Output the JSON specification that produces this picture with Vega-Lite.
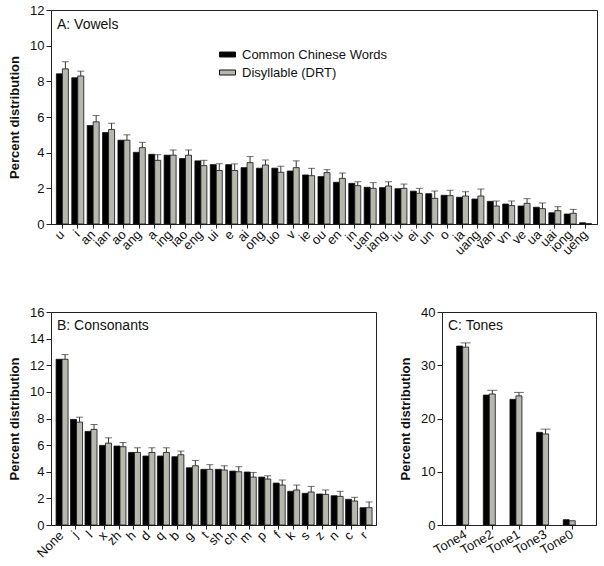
{
  "$schema": "https://vega.github.io/schema/vega-lite/v6.json",
  "padding": {"left": 8, "top": 3, "right": 5, "bottom": 5},
  "background": "white",
  "config": {
    "font": "Liberation Sans",
    "view": {"stroke": "#222", "strokeWidth": 1},
    "axis": {"labelFont": "Liberation Sans", "labelFontSize": 13, "labelColor": "#111", "titleFont": "Liberation Sans", "titleFontSize": 13, "titleFontWeight": "bold", "titleColor": "#111", "domainColor": "#222", "tickColor": "#222", "grid": false, "labelOverlap": false},
    "title": {"font": "Liberation Sans", "fontSize": 14, "fontWeight": "normal", "color": "#111"},
    "legend": {"labelFont": "Liberation Sans", "labelFontSize": 13, "labelColor": "#111"}
  },
  "resolve": {"scale": {"color": "independent"}, "legend": {"color": "independent"}},
  "spacing": 47,
  "vconcat": [
    {
      "width": 546,
      "height": 214,
      "title": {"text": "A: Vowels", "anchor": "start", "frame": "group", "orient": "top", "baseline": "top", "offset": -22, "dx": 6, "dy": 6},
      "data": {"values": [
        {"cat":"u","series":"Common Chinese Words","value":8.42},{"cat":"u","series":"Disyllable (DRT)","value":8.7,"upper":9.1},
        {"cat":"i","series":"Common Chinese Words","value":8.2},{"cat":"i","series":"Disyllable (DRT)","value":8.3,"upper":8.57},
        {"cat":"an","series":"Common Chinese Words","value":5.52},{"cat":"an","series":"Disyllable (DRT)","value":5.73,"upper":6.08},
        {"cat":"ian","series":"Common Chinese Words","value":5.13},{"cat":"ian","series":"Disyllable (DRT)","value":5.3,"upper":5.65},
        {"cat":"ao","series":"Common Chinese Words","value":4.7},{"cat":"ao","series":"Disyllable (DRT)","value":4.7,"upper":5.0},
        {"cat":"ang","series":"Common Chinese Words","value":4.02},{"cat":"ang","series":"Disyllable (DRT)","value":4.28,"upper":4.58},
        {"cat":"a","series":"Common Chinese Words","value":3.91},{"cat":"a","series":"Disyllable (DRT)","value":3.57,"upper":3.89},
        {"cat":"ing","series":"Common Chinese Words","value":3.86},{"cat":"ing","series":"Disyllable (DRT)","value":3.86,"upper":4.15},
        {"cat":"iao","series":"Common Chinese Words","value":3.67},{"cat":"iao","series":"Disyllable (DRT)","value":3.86,"upper":4.15},
        {"cat":"eng","series":"Common Chinese Words","value":3.54},{"cat":"eng","series":"Disyllable (DRT)","value":3.27,"upper":3.57},
        {"cat":"ui","series":"Common Chinese Words","value":3.33},{"cat":"ui","series":"Disyllable (DRT)","value":3.0,"upper":3.38},
        {"cat":"e","series":"Common Chinese Words","value":3.33},{"cat":"e","series":"Disyllable (DRT)","value":3.0,"upper":3.37},
        {"cat":"ai","series":"Common Chinese Words","value":3.16},{"cat":"ai","series":"Disyllable (DRT)","value":3.44,"upper":3.78},
        {"cat":"ong","series":"Common Chinese Words","value":3.13},{"cat":"ong","series":"Disyllable (DRT)","value":3.31,"upper":3.59},
        {"cat":"uo","series":"Common Chinese Words","value":3.13},{"cat":"uo","series":"Disyllable (DRT)","value":2.9,"upper":3.24},
        {"cat":"v","series":"Common Chinese Words","value":2.97},{"cat":"v","series":"Disyllable (DRT)","value":3.16,"upper":3.54},
        {"cat":"ie","series":"Common Chinese Words","value":2.75},{"cat":"ie","series":"Disyllable (DRT)","value":2.71,"upper":3.12},
        {"cat":"ou","series":"Common Chinese Words","value":2.66},{"cat":"ou","series":"Disyllable (DRT)","value":2.88,"upper":3.05},
        {"cat":"en","series":"Common Chinese Words","value":2.34},{"cat":"en","series":"Disyllable (DRT)","value":2.56,"upper":2.86},
        {"cat":"in","series":"Common Chinese Words","value":2.28},{"cat":"in","series":"Disyllable (DRT)","value":2.15,"upper":2.37},
        {"cat":"uan","series":"Common Chinese Words","value":2.06},{"cat":"uan","series":"Disyllable (DRT)","value":2.0,"upper":2.32},
        {"cat":"iang","series":"Common Chinese Words","value":2.04},{"cat":"iang","series":"Disyllable (DRT)","value":2.13,"upper":2.37},
        {"cat":"iu","series":"Common Chinese Words","value":1.98},{"cat":"iu","series":"Disyllable (DRT)","value":2.0,"upper":2.24},
        {"cat":"ei","series":"Common Chinese Words","value":1.84},{"cat":"ei","series":"Disyllable (DRT)","value":1.72,"upper":2.0},
        {"cat":"un","series":"Common Chinese Words","value":1.7},{"cat":"un","series":"Disyllable (DRT)","value":1.44,"upper":1.85},
        {"cat":"o","series":"Common Chinese Words","value":1.61},{"cat":"o","series":"Disyllable (DRT)","value":1.59,"upper":1.89},
        {"cat":"ia","series":"Common Chinese Words","value":1.5},{"cat":"ia","series":"Disyllable (DRT)","value":1.57,"upper":1.81},
        {"cat":"uang","series":"Common Chinese Words","value":1.4},{"cat":"uang","series":"Disyllable (DRT)","value":1.57,"upper":1.96},
        {"cat":"van","series":"Common Chinese Words","value":1.27},{"cat":"van","series":"Disyllable (DRT)","value":1.01,"upper":1.29},
        {"cat":"vn","series":"Common Chinese Words","value":1.12},{"cat":"vn","series":"Disyllable (DRT)","value":1.03,"upper":1.29},
        {"cat":"ve","series":"Common Chinese Words","value":1.01},{"cat":"ve","series":"Disyllable (DRT)","value":1.16,"upper":1.42},
        {"cat":"ua","series":"Common Chinese Words","value":0.94},{"cat":"ua","series":"Disyllable (DRT)","value":0.86,"upper":1.18},
        {"cat":"uai","series":"Common Chinese Words","value":0.63},{"cat":"uai","series":"Disyllable (DRT)","value":0.75,"upper":0.97},
        {"cat":"iong","series":"Common Chinese Words","value":0.56},{"cat":"iong","series":"Disyllable (DRT)","value":0.6,"upper":0.82},
        {"cat":"ueng","series":"Common Chinese Words","value":0.07},{"cat":"ueng","series":"Disyllable (DRT)","value":0.02}
      ]},
      "encoding": {
        "x": {"field": "cat", "type": "nominal", "sort": null, "title": null, "scale": {"paddingInner": 0.22, "paddingOuter": 0.35}, "axis": {"labelAngle": -45, "labelAlign": "right", "labelBaseline": "middle", "tickSize": 4, "labelPadding": 4}},
        "xOffset": {"field": "series", "type": "nominal", "scale": {"paddingInner": 0, "paddingOuter": 0}}
      },
      "layer": [
        {
          "mark": {"type": "bar", "stroke": "#111", "strokeWidth": 0.8},
          "encoding": {
            "y": {"field": "value", "type": "quantitative", "scale": {"domain": [0, 12]}, "axis": {"values": [0,2,4,6,8,10,12], "title": "Percent distribution", "tickSize": 5, "titlePadding": 8}},
            "color": {"field": "series", "type": "nominal", "scale": {"domain": ["Common Chinese Words", "Disyllable (DRT)"], "range": ["#000000", "#b6b8ae"]}, "legend": {"title": null, "orient": "none", "legendX": 170, "legendY": 38, "symbolType": "M-1.6,-0.5H1.6V0.5H-1.6Z", "symbolSize": 100, "symbolStrokeColor": "#111", "symbolStrokeWidth": 1, "rowPadding": 4, "labelOffset": 8}}
          }
        },
        {
          "transform": [{"filter": "isValid(datum.upper)"}],
          "mark": {"type": "rule", "color": "#333", "strokeWidth": 1},
          "encoding": {"y": {"field": "value", "type": "quantitative", "scale": {"domain": [0, 12]}, "axis": {"values": [0,2,4,6,8,10,12], "title": "Percent distribution", "tickSize": 5, "titlePadding": 8}}, "y2": {"field": "upper"}}
        },
        {
          "transform": [{"filter": "isValid(datum.upper)"}],
          "mark": {"type": "tick", "color": "#333", "thickness": 1, "size": 7},
          "encoding": {"y": {"field": "upper", "type": "quantitative", "scale": {"domain": [0, 12]}, "axis": {"values": [0,2,4,6,8,10,12], "title": "Percent distribution", "tickSize": 5, "titlePadding": 8}}}
        }
      ]
    },
    {
      "spacing": 22,
      "hconcat": [
        {
          "width": 325,
          "height": 213,
          "title": {"text": "B: Consonants", "anchor": "start", "frame": "group", "orient": "top", "baseline": "top", "offset": -22, "dx": 6, "dy": 5},
          "data": {"values": [
            {"cat":"None","series":"Common Chinese Words","value":12.45},{"cat":"None","series":"Disyllable (DRT)","value":12.45,"upper":12.8},
            {"cat":"j","series":"Common Chinese Words","value":7.93},{"cat":"j","series":"Disyllable (DRT)","value":7.73,"upper":8.1},
            {"cat":"l","series":"Common Chinese Words","value":7.03},{"cat":"l","series":"Disyllable (DRT)","value":7.18,"upper":7.55},
            {"cat":"x","series":"Common Chinese Words","value":5.98},{"cat":"x","series":"Disyllable (DRT)","value":6.15,"upper":6.55},
            {"cat":"zh","series":"Common Chinese Words","value":5.93},{"cat":"zh","series":"Disyllable (DRT)","value":5.88,"upper":6.2},
            {"cat":"h","series":"Common Chinese Words","value":5.45},{"cat":"h","series":"Disyllable (DRT)","value":5.45,"upper":5.8},
            {"cat":"d","series":"Common Chinese Words","value":5.18},{"cat":"d","series":"Disyllable (DRT)","value":5.45,"upper":5.8},
            {"cat":"q","series":"Common Chinese Words","value":5.18},{"cat":"q","series":"Disyllable (DRT)","value":5.45,"upper":5.8},
            {"cat":"b","series":"Common Chinese Words","value":5.13},{"cat":"b","series":"Disyllable (DRT)","value":5.28,"upper":5.55},
            {"cat":"g","series":"Common Chinese Words","value":4.3},{"cat":"g","series":"Disyllable (DRT)","value":4.45,"upper":4.85},
            {"cat":"t","series":"Common Chinese Words","value":4.18},{"cat":"t","series":"Disyllable (DRT)","value":4.18,"upper":4.53},
            {"cat":"sh","series":"Common Chinese Words","value":4.18},{"cat":"sh","series":"Disyllable (DRT)","value":4.13,"upper":4.45},
            {"cat":"ch","series":"Common Chinese Words","value":4.05},{"cat":"ch","series":"Disyllable (DRT)","value":4.0,"upper":4.38},
            {"cat":"m","series":"Common Chinese Words","value":3.98},{"cat":"m","series":"Disyllable (DRT)","value":3.6,"upper":3.95},
            {"cat":"p","series":"Common Chinese Words","value":3.6},{"cat":"p","series":"Disyllable (DRT)","value":3.45,"upper":3.7},
            {"cat":"f","series":"Common Chinese Words","value":3.15},{"cat":"f","series":"Disyllable (DRT)","value":3.0,"upper":3.38},
            {"cat":"k","series":"Common Chinese Words","value":2.53},{"cat":"k","series":"Disyllable (DRT)","value":2.63,"upper":3.0},
            {"cat":"s","series":"Common Chinese Words","value":2.38},{"cat":"s","series":"Disyllable (DRT)","value":2.48,"upper":2.9},
            {"cat":"z","series":"Common Chinese Words","value":2.33},{"cat":"z","series":"Disyllable (DRT)","value":2.3,"upper":2.63},
            {"cat":"n","series":"Common Chinese Words","value":2.2},{"cat":"n","series":"Disyllable (DRT)","value":2.15,"upper":2.53},
            {"cat":"c","series":"Common Chinese Words","value":1.93},{"cat":"c","series":"Disyllable (DRT)","value":1.8,"upper":2.08},
            {"cat":"r","series":"Common Chinese Words","value":1.3},{"cat":"r","series":"Disyllable (DRT)","value":1.3,"upper":1.73}
          ]},
          "encoding": {
            "x": {"field": "cat", "type": "nominal", "sort": null, "title": null, "scale": {"paddingInner": 0.25, "paddingOuter": 0.35}, "axis": {"labelAngle": -45, "labelAlign": "right", "labelBaseline": "middle", "tickSize": 4, "labelPadding": 4}},
            "xOffset": {"field": "series", "type": "nominal", "scale": {"paddingInner": 0, "paddingOuter": 0}}
          },
          "layer": [
            {
              "mark": {"type": "bar", "stroke": "#111", "strokeWidth": 0.8},
              "encoding": {
                "y": {"field": "value", "type": "quantitative", "scale": {"domain": [0, 16]}, "axis": {"values": [0,2,4,6,8,10,12,14,16], "title": "Percent distribution", "tickSize": 5, "titlePadding": 8}},
                "color": {"field": "series", "type": "nominal", "scale": {"domain": ["Common Chinese Words", "Disyllable (DRT)"], "range": ["#000000", "#b6b8ae"]}, "legend": null}
              }
            },
            {
              "transform": [{"filter": "isValid(datum.upper)"}],
              "mark": {"type": "rule", "color": "#333", "strokeWidth": 1},
              "encoding": {"y": {"field": "value", "type": "quantitative", "scale": {"domain": [0, 16]}, "axis": {"values": [0,2,4,6,8,10,12,14,16], "title": "Percent distribution", "tickSize": 5, "titlePadding": 8}}, "y2": {"field": "upper"}}
            },
            {
              "transform": [{"filter": "isValid(datum.upper)"}],
              "mark": {"type": "tick", "color": "#333", "thickness": 1, "size": 7},
              "encoding": {"y": {"field": "upper", "type": "quantitative", "scale": {"domain": [0, 16]}, "axis": {"values": [0,2,4,6,8,10,12,14,16], "title": "Percent distribution", "tickSize": 5, "titlePadding": 8}}}
            }
          ]
        },
        {
          "width": 154,
          "height": 213,
          "title": {"text": "C: Tones", "anchor": "start", "frame": "group", "orient": "top", "baseline": "top", "offset": -22, "dx": 6, "dy": 5},
          "data": {"values": [
            {"cat":"Tone4","series":"Common Chinese Words","value":33.6},{"cat":"Tone4","series":"Disyllable (DRT)","value":33.4,"upper":34.2},
            {"cat":"Tone2","series":"Common Chinese Words","value":24.4},{"cat":"Tone2","series":"Disyllable (DRT)","value":24.6,"upper":25.3},
            {"cat":"Tone1","series":"Common Chinese Words","value":23.6},{"cat":"Tone1","series":"Disyllable (DRT)","value":24.25,"upper":24.9},
            {"cat":"Tone3","series":"Common Chinese Words","value":17.4},{"cat":"Tone3","series":"Disyllable (DRT)","value":17.1,"upper":18.0},
            {"cat":"Tone0","series":"Common Chinese Words","value":1.0},{"cat":"Tone0","series":"Disyllable (DRT)","value":0.8}
          ]},
          "encoding": {
            "x": {"field": "cat", "type": "nominal", "sort": null, "title": null, "scale": {"paddingInner": 0.32, "paddingOuter": 0.55}, "axis": {"labelAngle": -30, "labelAlign": "right", "labelBaseline": "middle", "tickSize": 4, "labelPadding": 4}},
            "xOffset": {"field": "series", "type": "nominal", "scale": {"paddingInner": 0, "paddingOuter": 0}}
          },
          "layer": [
            {
              "mark": {"type": "bar", "stroke": "#111", "strokeWidth": 0.8},
              "encoding": {
                "y": {"field": "value", "type": "quantitative", "scale": {"domain": [0, 40]}, "axis": {"values": [0,10,20,30,40], "title": "Percent distribution", "tickSize": 5, "titlePadding": 8}},
                "color": {"field": "series", "type": "nominal", "scale": {"domain": ["Common Chinese Words", "Disyllable (DRT)"], "range": ["#000000", "#b6b8ae"]}, "legend": null}
              }
            },
            {
              "transform": [{"filter": "isValid(datum.upper)"}],
              "mark": {"type": "rule", "color": "#333", "strokeWidth": 1},
              "encoding": {"y": {"field": "value", "type": "quantitative", "scale": {"domain": [0, 40]}, "axis": {"values": [0,10,20,30,40], "title": "Percent distribution", "tickSize": 5, "titlePadding": 8}}, "y2": {"field": "upper"}}
            },
            {
              "transform": [{"filter": "isValid(datum.upper)"}],
              "mark": {"type": "tick", "color": "#333", "thickness": 1, "size": 10},
              "encoding": {"y": {"field": "upper", "type": "quantitative", "scale": {"domain": [0, 40]}, "axis": {"values": [0,10,20,30,40], "title": "Percent distribution", "tickSize": 5, "titlePadding": 8}}}
            }
          ]
        }
      ]
    }
  ]
}
